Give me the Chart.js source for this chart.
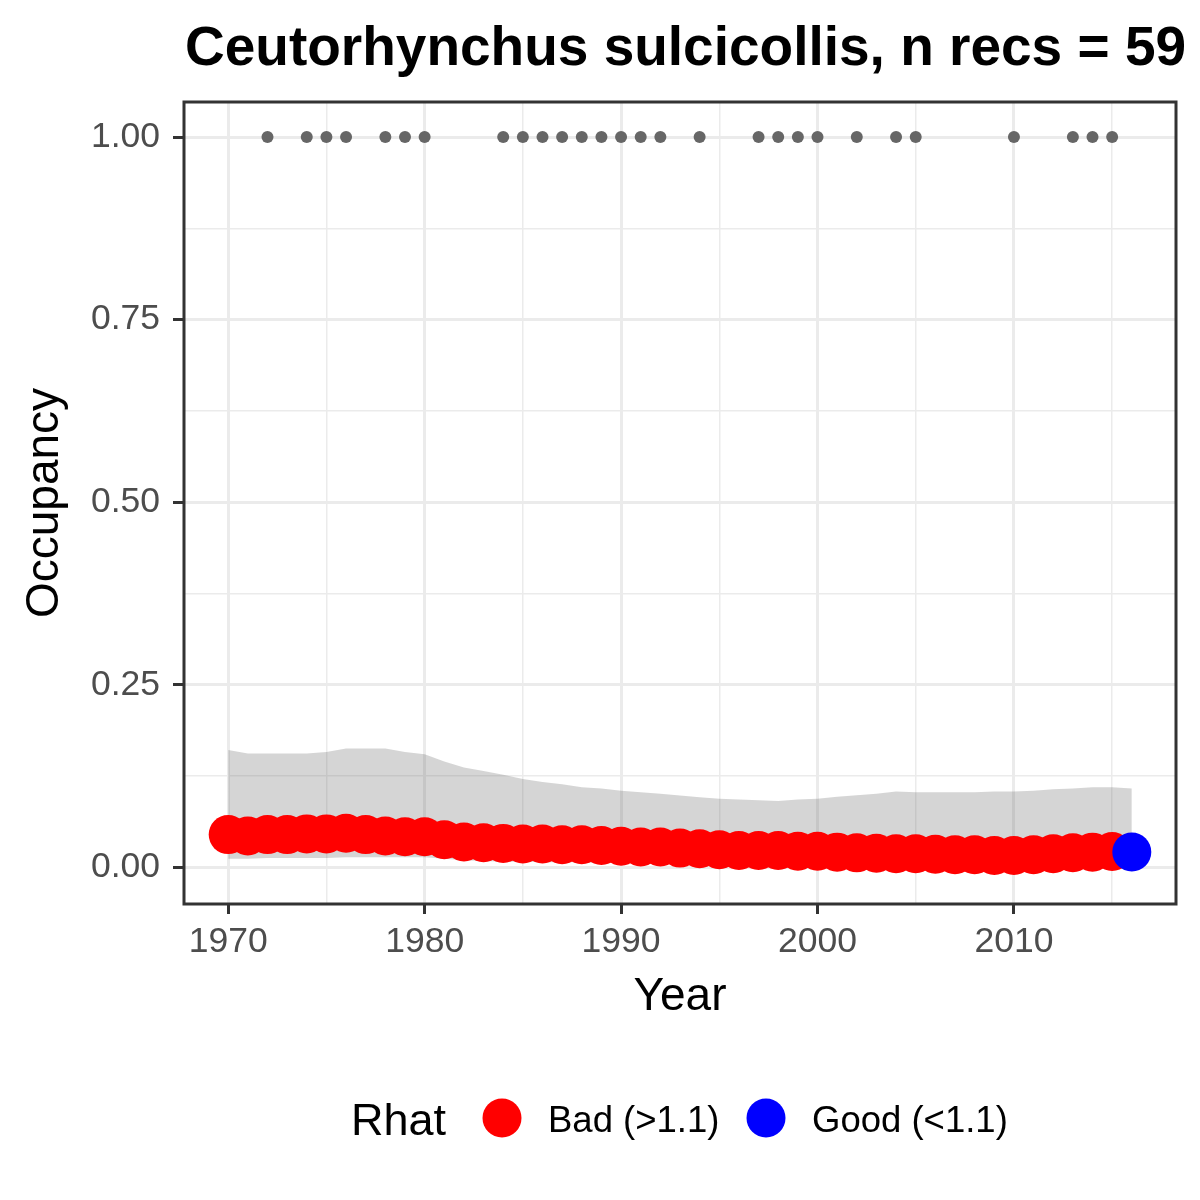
<!DOCTYPE html>
<html>
<head>
<meta charset="utf-8">
<script src="https://cdn.jsdelivr.net/npm/chart.js@4.4.1/dist/chart.umd.min.js"></script>
<style>
  html, body { margin: 0; padding: 0; background: #ffffff; }
  #wrap { width: 1200px; height: 1200px; position: relative; }
</style>
</head>
<body>
<div id="wrap"><canvas id="c" width="1200" height="1200"></canvas></div>
<script>
// ---- data ----
const chartTitle = 'Ceutorhynchus sulcicollis, n recs = 59';
const xAxisTitle = 'Year';
const yAxisTitle = 'Occupancy';
const legendTitle = 'Rhat';
const legendLabels = ['Bad (>1.1)', 'Good (<1.1)'];

const years = [1970,1971,1972,1973,1974,1975,1976,1977,1978,1979,
               1980,1981,1982,1983,1984,1985,1986,1987,1988,1989,
               1990,1991,1992,1993,1994,1995,1996,1997,1998,1999,
               2000,2001,2002,2003,2004,2005,2006,2007,2008,2009,
               2010,2011,2012,2013,2014,2015,2016];

const badYears = [1970,1971,1972,1973,1974,1975,1976,1977,1978,1979,
                  1980,1981,1982,1983,1984,1985,1986,1987,1988,1989,
                  1990,1991,1992,1993,1994,1995,1996,1997,1998,1999,
                  2000,2001,2002,2003,2004,2005,2006,2007,2008,2009,
                  2010,2011,2012,2013,2014,2015];
const badMean = [0.045,0.043,0.045,0.045,0.046,0.046,0.047,0.045,0.043,0.042,
                 0.042,0.038,0.035,0.034,0.033,0.032,0.032,0.031,0.031,0.030,
                 0.029,0.028,0.028,0.0265,0.0255,0.0242,0.0233,0.0233,0.0233,0.0223,
                 0.0223,0.021,0.020,0.0196,0.0187,0.0187,0.0182,0.0173,0.0173,0.0164,
                 0.0164,0.0173,0.0187,0.0201,0.021,0.022];

const goodYears = [2016];
const goodMean = [0.0212];

const upperCI = [0.161,0.156,0.156,0.156,0.156,0.158,0.163,0.163,0.163,0.158,
                 0.155,0.145,0.137,0.132,0.127,0.121,0.117,0.114,0.110,0.108,
                 0.105,0.103,0.101,0.0985,0.096,0.094,0.093,0.092,0.091,0.093,
                 0.094,0.097,0.099,0.101,0.104,0.103,0.103,0.103,0.103,0.104,
                 0.104,0.105,0.107,0.108,0.110,0.110,0.108];
const lowerCI = [0.012,0.012,0.013,0.013,0.013,0.013,0.014,0.014,0.014,0.014,
                 0.014,0.012,0.010,0.009,0.008,0.008,0.007,0.007,0.007,0.006,
                 0.006,0.006,0.006,0.006,0.005,0.005,0.005,0.005,0.005,0.005,
                 0.005,0.005,0.005,0.005,0.004,0.004,0.004,0.004,0.004,0.004,
                 0.004,0.004,0.004,0.005,0.005,0.005,0.005];

const recordYears = [1972,1974,1975,1976,1978,1979,1980,
                     1984,1985,1986,1987,1988,1989,1990,1991,1992,
                     1994,1997,1998,1999,2000,2002,2004,2005,
                     2010,2013,2014,2015];
const recordValue = [1,1,1,1,1,1,1,1,1,1,1,1,1,1,1,1,1,1,1,1,1,1,1,1,1,1,1,1];

const xTickVals = [1970,1975,1980,1985,1990,1995,2000,2005,2010,2015];
const yTickVals = [0,0.125,0.25,0.375,0.5,0.625,0.75,0.875,1];

// ---- styling ----
const FONT = '"Liberation Sans", Arial, Helvetica, sans-serif';
const GRID = '#EBEBEB';
const DARK = '#333333';

function pts(xs, ys) { return xs.map((x, i) => ({x: x, y: ys[i]})); }
const isMajorX = v => Math.abs(v % 10) < 1e-9;
const isMajorY = v => Math.abs(v * 4 - Math.round(v * 4)) < 1e-9;

const decorPlugin = {
  id: 'decor',
  afterDatasetsDraw(chart) {
    const {ctx, chartArea: a} = chart;
    ctx.save();
    ctx.strokeStyle = DARK;
    ctx.lineWidth = 3;
    ctx.strokeRect(a.left, a.top, a.right - a.left, a.bottom - a.top);
    ctx.restore();
  },
  afterDraw(chart) {
    const {ctx} = chart;
    ctx.save();
    ctx.fillStyle = '#000000';
    ctx.textBaseline = 'alphabetic';
    ctx.textAlign = 'left';
    ctx.font = 'bold 55px ' + FONT;
    ctx.fillText(chartTitle, 185, 65);
    ctx.font = '45px ' + FONT;
    ctx.fillText(legendTitle, 351, 1135);
    ctx.fillStyle = '#FF0000';
    ctx.beginPath(); ctx.arc(502, 1118, 19.5, 0, Math.PI * 2); ctx.fill();
    ctx.fillStyle = '#0000FF';
    ctx.beginPath(); ctx.arc(766, 1118, 19.5, 0, Math.PI * 2); ctx.fill();
    ctx.fillStyle = '#000000';
    ctx.font = '36.5px ' + FONT;
    ctx.fillText(legendLabels[0], 548, 1132);
    ctx.fillText(legendLabels[1], 812, 1132);
    ctx.restore();
  }
};

const chart = new Chart(document.getElementById('c'), {
  type: 'scatter',
  data: {
    datasets: [
      { label: 'lower', order: 10, data: pts(years, lowerCI), showLine: true, pointRadius: 0,
        borderWidth: 0, borderColor: 'rgba(0,0,0,0)', fill: false, tension: 0 },
      { label: 'upper', order: 9, data: pts(years, upperCI), showLine: true, pointRadius: 0,
        borderWidth: 0, borderColor: 'rgba(0,0,0,0)', fill: '-1', tension: 0,
        backgroundColor: 'rgba(100,100,100,0.27)' },
      { label: legendLabels[0], order: 3, data: pts(badYears, badMean), showLine: false,
        pointRadius: 19.5, pointBackgroundColor: '#FF0000', pointBorderWidth: 0,
        pointBorderColor: '#FF0000' },
      { label: legendLabels[1], order: 2, data: pts(goodYears, goodMean), showLine: false,
        pointRadius: 19.5, pointBackgroundColor: '#0000FF', pointBorderWidth: 0,
        pointBorderColor: '#0000FF' },
      { label: 'records', order: 1, data: pts(recordYears, recordValue), showLine: false,
        pointRadius: 6, pointBackgroundColor: '#666666', pointBorderWidth: 0,
        pointBorderColor: '#666666' }
    ]
  },
  options: {
    responsive: false,
    animation: false,
    events: [],
    clip: false,
    layout: { padding: { left: 0, right: 24, top: 102, bottom: 166 } },
    plugins: { legend: { display: false }, title: { display: false }, tooltip: { enabled: false } },
    scales: {
      x: {
        type: 'linear',
        min: 1967.75,
        max: 2018.25,
        afterBuildTicks: s => { s.ticks = xTickVals.map(v => ({value: v})); },
        afterFit: s => { s.height = 130; },
        border: { display: false },
        grid: {
          color: c => GRID,
          lineWidth: c => (c.tick && isMajorX(c.tick.value)) ? 3 : 1.5,
          drawTicks: true,
          tickLength: 10,
          tickColor: c => (c.tick && isMajorX(c.tick.value)) ? DARK : 'rgba(0,0,0,0)',
          tickWidth: 3
        },
        ticks: {
          autoSkip: false, maxRotation: 0, minRotation: 0, padding: 7,
          color: '#4D4D4D', font: { family: FONT, size: 35.5 },
          callback: v => isMajorX(v) ? String(v) : ''
        },
        title: { display: true, text: xAxisTitle, color: '#000000',
                 font: { family: FONT, size: 46 }, padding: { top: 0, bottom: 9 } }
      },
      y: {
        type: 'linear',
        min: -0.05,
        max: 1.048,
        afterBuildTicks: s => { s.ticks = yTickVals.map(v => ({value: v})); },
        afterFit: s => { s.width = 184; },
        border: { display: false },
        grid: {
          color: c => GRID,
          lineWidth: c => (c.tick && isMajorY(c.tick.value)) ? 3 : 1.5,
          drawTicks: true,
          tickLength: 11,
          tickColor: c => (c.tick && isMajorY(c.tick.value)) ? DARK : 'rgba(0,0,0,0)',
          tickWidth: 3
        },
        ticks: {
          autoSkip: false, padding: 13,
          color: '#4D4D4D', font: { family: FONT, size: 35.5 },
          callback: v => isMajorY(v) ? v.toFixed(2) : ''
        },
        title: { display: true, text: yAxisTitle, color: '#000000',
                 font: { family: FONT, size: 46 }, padding: { top: 18, bottom: 0 } }
      }
    }
  },
  plugins: [decorPlugin]
});
</script>
</body>
</html>
